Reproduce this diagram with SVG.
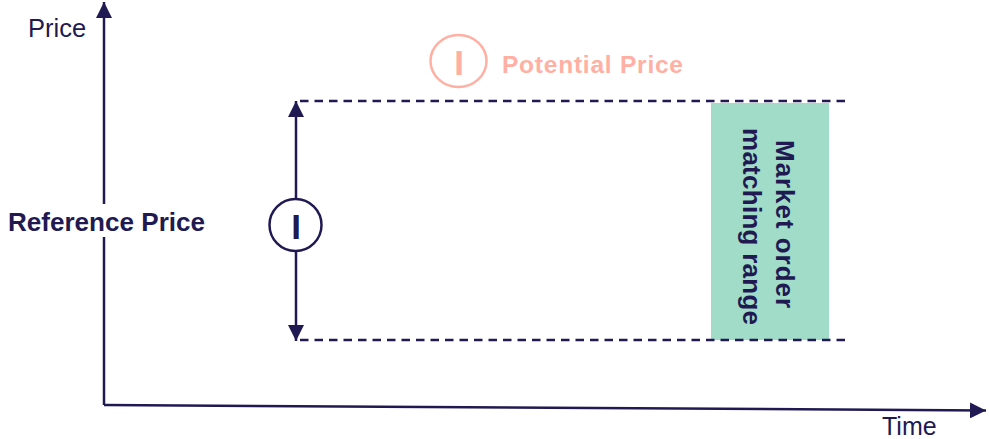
<svg xmlns="http://www.w3.org/2000/svg" width="989" height="439" viewBox="0 0 989 439">
<style>
.t{font-family:"Liberation Sans",Arial,sans-serif;fill:#211a52}
.b{font-weight:bold}
.axis{stroke:#211a52;stroke-width:2.5;fill:none}
.dash{stroke:#211a52;stroke-width:2.6;stroke-dasharray:8.5 6;fill:none}
.salmon{fill:#ffb0a3;font-family:"Liberation Sans",Arial,sans-serif;font-weight:bold}
</style>
<defs>
<marker id="ah" viewBox="0 0 10 10" refX="10" refY="5" markerWidth="16" markerHeight="16" markerUnits="userSpaceOnUse" orient="auto-start-reverse">
<path d="M0,0 L10,5 L0,10 Z" fill="#211a52"/>
</marker>
</defs>
<rect width="989" height="439" fill="#fff"/>
<g id="range">
<rect x="711" y="103" width="118" height="237" fill="#a0dcc8"/>
<text class="t b" font-size="26" text-anchor="middle" transform="translate(776,224) rotate(90)" textLength="168" lengthAdjust="spacing">Market order</text>
<text class="t b" font-size="26" text-anchor="middle" transform="translate(743,226.5) rotate(90)" textLength="197" lengthAdjust="spacing">matching range</text>
</g>
<g id="connectors">
<path class="axis" d="M104,405 L104,2" marker-end="url(#ah)"/>
<path class="axis" d="M104,405 L986,410.5" marker-end="url(#ah)"/>
<path class="dash" d="M300,101 L848,101"/>
<path class="dash" d="M300,340 L848,340"/>
<path class="axis" d="M296,198 L296,101" marker-end="url(#ah)"/>
<path class="axis" d="M296,251 L296,341" marker-end="url(#ah)"/>
</g>
<g id="price-label"><text class="t" x="28" y="37" font-size="25.5">Price</text></g>
<g id="time-label"><text class="t" x="882" y="435" font-size="25">Time</text></g>
<g id="reference-label">
<rect x="5" y="204" width="204" height="33" fill="#fff"/>
<text class="t b" x="8" y="231" font-size="26" textLength="197" lengthAdjust="spacingAndGlyphs">Reference Price</text>
</g>
<g id="range-marker">
<circle cx="295.5" cy="225" r="26" fill="#fff" stroke="#211a52" stroke-width="2.5"/>
<text class="t b" x="296" y="239" font-size="35" text-anchor="middle">I</text>
</g>
<g id="potential-price">
<ellipse cx="458.5" cy="61" rx="28" ry="26" fill="none" stroke="#ffb0a3" stroke-width="2.5"/>
<text class="salmon" x="459" y="75" font-size="35" text-anchor="middle">I</text>
<text class="salmon" x="502" y="73" font-size="24.5" textLength="181" lengthAdjust="spacing">Potential Price</text>
</g>
</svg>
